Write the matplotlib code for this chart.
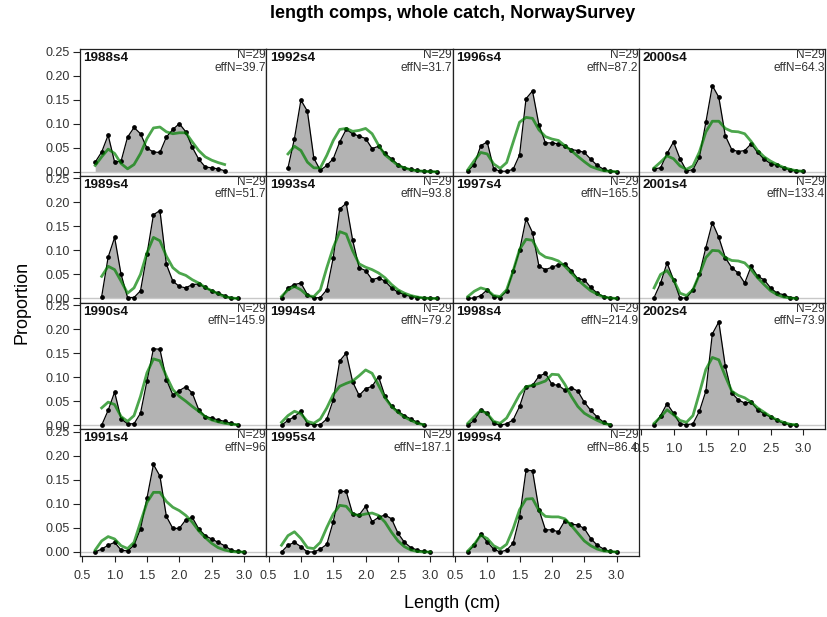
import numpy as np
import matplotlib
matplotlib.use("Agg")
import matplotlib.pyplot as plt

plt.rcParams['font.family'] = ['Liberation Sans', 'DejaVu Sans']

# panels, in the order they fill the grid (column by column)
years = [1988, 1989, 1990, 1991, 1992, 1993, 1994, 1995,
         1996, 1997, 1998, 1999, 2000, 2001, 2002]
eff_n = ["39.7", "51.7", "145.9", "96", "31.7", "93.8", "79.2", "187.1",
         "87.2", "165.5", "214.9", "86.4", "64.3", "133.4", "73.9"]
first_bin = [0.7, 0.8, 0.8, 0.7, 0.8, 0.7, 0.7, 0.7,
             0.7, 0.7, 0.7, 0.7, 0.7, 0.7, 0.7]

# observed proportions
obs_1988 = [0.020, 0.041, 0.076, 0.020, 0.022, 0.072, 0.092, 0.079, 0.049, 0.041, 0.040,
            0.072, 0.088, 0.100, 0.083, 0.051, 0.026, 0.010, 0.008, 0.006, 0.002]
obs_1989 = [0.004, 0.086, 0.127, 0.050, 0.002, 0.002, 0.016, 0.092, 0.174, 0.183, 0.071,
            0.036, 0.025, 0.022, 0.029, 0.030, 0.023, 0.016, 0.011, 0.006, 0.001, 0.0]
obs_1990 = [0.0, 0.031, 0.069, 0.013, 0.003, 0.003, 0.025, 0.092, 0.159, 0.158, 0.095,
            0.063, 0.072, 0.080, 0.067, 0.032, 0.018, 0.015, 0.011, 0.008, 0.004, 0.001]
obs_1991 = [0.0, 0.006, 0.014, 0.020, 0.004, 0.002, 0.014, 0.048, 0.112, 0.182, 0.158, 0.074,
            0.049, 0.049, 0.067, 0.072, 0.048, 0.034, 0.027, 0.020, 0.013, 0.004, 0.001, 0.0]
obs_1992 = [0.008, 0.069, 0.149, 0.126, 0.028, 0.003, 0.013, 0.027, 0.062, 0.088, 0.079, 0.074,
            0.069, 0.048, 0.053, 0.038, 0.027, 0.015, 0.008, 0.005, 0.003, 0.001, 0.001, 0.0]
obs_1993 = [0.001, 0.022, 0.029, 0.032, 0.008, 0.001, 0.002, 0.018, 0.085, 0.186, 0.198, 0.121,
            0.064, 0.058, 0.039, 0.043, 0.036, 0.022, 0.013, 0.008, 0.004, 0.002, 0.001, 0.001, 0.0]
obs_1994 = [0.0, 0.010, 0.018, 0.029, 0.003, 0.001, 0.001, 0.013, 0.053, 0.134, 0.150, 0.090,
            0.062, 0.076, 0.081, 0.101, 0.060, 0.040, 0.029, 0.020, 0.013, 0.006, 0.001]
obs_1995 = [0.0, 0.014, 0.020, 0.011, 0.0, 0.0, 0.006, 0.016, 0.063, 0.126, 0.126, 0.079,
            0.077, 0.095, 0.063, 0.072, 0.077, 0.069, 0.039, 0.020, 0.009, 0.004, 0.001, 0.0]
obs_1996 = [0.001, 0.015, 0.054, 0.062, 0.006, 0.001, 0.001, 0.005, 0.035, 0.152, 0.168, 0.097,
            0.060, 0.060, 0.058, 0.053, 0.046, 0.044, 0.040, 0.026, 0.013, 0.005, 0.001, 0.0]
obs_1997 = [0.0, 0.001, 0.006, 0.018, 0.004, 0.002, 0.015, 0.057, 0.100, 0.166, 0.137, 0.067,
            0.060, 0.065, 0.070, 0.072, 0.058, 0.041, 0.039, 0.023, 0.011, 0.004, 0.001, 0.0]
obs_1998 = [0.0, 0.010, 0.032, 0.025, 0.004, 0.0, 0.003, 0.011, 0.039, 0.080, 0.083, 0.102,
            0.108, 0.085, 0.083, 0.073, 0.078, 0.071, 0.048, 0.031, 0.017, 0.006, 0.001]
obs_1999 = [0.0, 0.014, 0.037, 0.021, 0.006, 0.0, 0.004, 0.018, 0.072, 0.170, 0.169, 0.088,
            0.046, 0.046, 0.042, 0.065, 0.058, 0.056, 0.049, 0.028, 0.014, 0.006, 0.001, 0.0]
obs_2000 = [0.006, 0.008, 0.038, 0.062, 0.027, 0.002, 0.004, 0.030, 0.103, 0.179, 0.155, 0.075,
            0.046, 0.042, 0.044, 0.058, 0.040, 0.026, 0.017, 0.013, 0.008, 0.004, 0.002, 0.001]
obs_2001 = [0.002, 0.032, 0.074, 0.039, 0.001, 0.001, 0.018, 0.050, 0.106, 0.158, 0.127, 0.085,
            0.064, 0.053, 0.032, 0.067, 0.046, 0.039, 0.022, 0.011, 0.008, 0.002, 0.001]
obs_2002 = [0.0, 0.020, 0.045, 0.025, 0.003, 0.001, 0.003, 0.029, 0.071, 0.190, 0.215, 0.123,
            0.067, 0.053, 0.046, 0.048, 0.032, 0.024, 0.017, 0.010, 0.004, 0.001, 0.0]

# expected proportions (model fit)
exp_1988 = [0.013, 0.031, 0.047, 0.038, 0.017, 0.006, 0.015, 0.038, 0.069, 0.091, 0.093,
            0.083, 0.079, 0.081, 0.081, 0.062, 0.044, 0.031, 0.024, 0.019, 0.015]
exp_1989 = [0.046, 0.067, 0.060, 0.036, 0.011, 0.022, 0.050, 0.095, 0.127, 0.120, 0.088,
            0.064, 0.053, 0.048, 0.039, 0.032, 0.023, 0.016, 0.010, 0.004, 0.001, 0.0]
exp_1990 = [0.036, 0.048, 0.043, 0.018, 0.008, 0.020, 0.060, 0.109, 0.138, 0.134, 0.102,
            0.074, 0.060, 0.050, 0.039, 0.029, 0.018, 0.011, 0.007, 0.004, 0.002, 0.001]
exp_1991 = [0.004, 0.023, 0.032, 0.027, 0.013, 0.007, 0.020, 0.062, 0.103, 0.124, 0.124, 0.105,
            0.093, 0.086, 0.076, 0.062, 0.044, 0.030, 0.018, 0.009, 0.004, 0.001, 0.0, 0.0]
exp_1992 = [0.037, 0.053, 0.044, 0.020, 0.008, 0.008, 0.034, 0.065, 0.088, 0.090, 0.084, 0.086,
            0.090, 0.079, 0.055, 0.035, 0.024, 0.013, 0.008, 0.004, 0.002, 0.001, 0.0, 0.0]
exp_1993 = [0.004, 0.018, 0.025, 0.018, 0.006, 0.004, 0.018, 0.064, 0.106, 0.139, 0.134, 0.099,
            0.072, 0.065, 0.060, 0.053, 0.043, 0.029, 0.018, 0.011, 0.006, 0.003, 0.001, 0.0, 0.0]
exp_1994 = [0.006, 0.020, 0.029, 0.024, 0.008, 0.004, 0.013, 0.036, 0.064, 0.081, 0.087, 0.092,
            0.103, 0.115, 0.108, 0.083, 0.057, 0.039, 0.027, 0.017, 0.010, 0.004, 0.001]
exp_1995 = [0.014, 0.034, 0.042, 0.028, 0.009, 0.007, 0.020, 0.051, 0.079, 0.097, 0.095, 0.079,
            0.076, 0.079, 0.081, 0.076, 0.062, 0.041, 0.023, 0.011, 0.004, 0.001, 0.0, 0.0]
exp_1996 = [0.004, 0.023, 0.040, 0.037, 0.016, 0.007, 0.019, 0.061, 0.103, 0.113, 0.111, 0.087,
            0.073, 0.068, 0.065, 0.054, 0.044, 0.032, 0.021, 0.011, 0.006, 0.002, 0.001, 0.0]
exp_1997 = [0.004, 0.015, 0.022, 0.018, 0.006, 0.004, 0.018, 0.057, 0.102, 0.123, 0.121, 0.095,
            0.086, 0.083, 0.078, 0.067, 0.053, 0.039, 0.027, 0.016, 0.009, 0.003, 0.001, 0.0]
exp_1998 = [0.004, 0.018, 0.031, 0.024, 0.008, 0.004, 0.015, 0.039, 0.064, 0.080, 0.083, 0.087,
            0.092, 0.106, 0.105, 0.085, 0.060, 0.039, 0.025, 0.017, 0.010, 0.004, 0.001]
exp_1999 = [0.002, 0.016, 0.035, 0.028, 0.013, 0.006, 0.016, 0.048, 0.088, 0.110, 0.111, 0.086,
            0.074, 0.073, 0.073, 0.069, 0.055, 0.039, 0.023, 0.013, 0.006, 0.002, 0.001, 0.0]
exp_2000 = [0.008, 0.020, 0.033, 0.027, 0.012, 0.005, 0.012, 0.041, 0.083, 0.105, 0.105, 0.090,
            0.084, 0.083, 0.079, 0.063, 0.044, 0.031, 0.022, 0.015, 0.009, 0.005, 0.002, 0.001]
exp_2001 = [0.022, 0.050, 0.058, 0.039, 0.011, 0.006, 0.018, 0.050, 0.085, 0.100, 0.099, 0.085,
            0.079, 0.078, 0.074, 0.060, 0.043, 0.029, 0.016, 0.008, 0.003, 0.001, 0.0]
exp_2002 = [0.004, 0.017, 0.032, 0.022, 0.010, 0.006, 0.020, 0.067, 0.116, 0.141, 0.136, 0.102,
            0.071, 0.062, 0.057, 0.048, 0.036, 0.027, 0.018, 0.011, 0.006, 0.002, 0.001]

obs_all = [obs_1988, obs_1989, obs_1990, obs_1991, obs_1992, obs_1993, obs_1994, obs_1995,
           obs_1996, obs_1997, obs_1998, obs_1999, obs_2000, obs_2001, obs_2002]
exp_all = [exp_1988, exp_1989, exp_1990, exp_1991, exp_1992, exp_1993, exp_1994, exp_1995,
           exp_1996, exp_1997, exp_1998, exp_1999, exp_2000, exp_2001, exp_2002]

x_ticks = [0.5, 1.0, 1.5, 2.0, 2.5, 3.0]
y_ticks = [0.00, 0.05, 0.10, 0.15, 0.20, 0.25]

W, H = 827, 617
fig = plt.figure(figsize=(W / 100, H / 100), dpi=100)

# panel grid in pixels
left0, top0 = 80, 49
pw, ph = 186.3, 126.75
nrow = 4
fit_col = (0, 0.5, 0, 0.7)
frame = '#222222'

for i, yr in enumerate(years):
    col, row = i // nrow, i % nrow
    l = left0 + col * pw
    t = top0 + row * ph
    ax = fig.add_axes([l / W, 1 - (t + ph) / H, pw / W, ph / H])

    obs = np.array(obs_all[i])
    exp = np.array(exp_all[i])
    x = np.round(first_bin[i] + 0.1 * np.arange(len(obs)), 1)

    ax.fill_between(x, 0, obs, color='#B3B3B3', lw=0, zorder=1)
    ax.axhline(0, color='#C8C8C8', lw=1, zorder=2)
    ax.plot(x, obs, color='black', lw=0.9, marker='o', ms=2.4, zorder=3)
    ax.plot(x, exp, color=fit_col, lw=2, zorder=4)

    ax.set_xlim(0.465, 3.344)
    ax.set_ylim(-0.0084, 0.2553)
    for s in ax.spines.values():
        s.set_color(frame)
        s.set_linewidth(0.9)

    ax.text(0.018, 0.975, f"{yr}s4", transform=ax.transAxes, ha='left', va='top',
            fontsize=9.7, fontweight='bold', color='#111111')
    ax.text(0.997, 1.0, "N=29", transform=ax.transAxes, ha='right', va='top',
            fontsize=8.6, color='#333333')
    ax.text(0.997, 0.9, f"effN={eff_n[i]}", transform=ax.transAxes, ha='right', va='top',
            fontsize=8.6, color='#333333')

    ax.tick_params(axis='y', direction='out', length=5.4, width=0.8, color=frame,
                   labelsize=9, labelcolor='#333333', pad=1.8)
    ax.tick_params(axis='x', direction='out', length=4.4, width=0.8, color=frame,
                   labelsize=9, labelcolor='#333333', pad=5.5)
    if col == 0:
        ax.set_yticks(y_ticks)
        ax.set_yticklabels([f"{v:.2f}" for v in y_ticks])
    else:
        ax.set_yticks([])
    last_in_col = (i == len(years) - 1) or (row == nrow - 1)
    if last_in_col:
        ax.set_xticks(x_ticks)
        ax.set_xticklabels([f"{v:.1f}" for v in x_ticks])
    else:
        ax.set_xticks([])

fig.text(453 / W, 1 - 14 / H, "length comps, whole catch, NorwaySurvey",
         ha='center', va='center', fontsize=13, fontweight='bold')
fig.text(22 / W, 1 - 302 / H, "Proportion", rotation=90, ha='center', va='center',
         fontsize=13)
fig.text(452 / W, 1 - 604 / H, "Length (cm)", ha='center', va='center', fontsize=13)

fig.savefig("out.png", dpi=100)
